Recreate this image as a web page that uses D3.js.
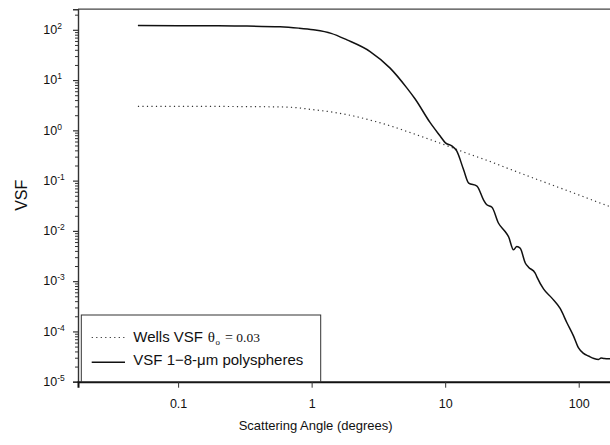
<!DOCTYPE html>
<html>
<head>
<meta charset="utf-8">
<script src="https://cdn.jsdelivr.net/npm/d3@7"></script>
<style>
  html, body { margin: 0; padding: 0; background: #fff; }
  svg { display: block; font-family: "Liberation Sans", Arial, sans-serif; }
</style>
</head>
<body>
<svg id="chart" width="610" height="445"></svg>
<script>
// ---- data ----
const wellsAngle = [0.05, 0.1, 0.2, 0.3, 0.5, 0.7, 1, 1.5, 2, 3, 4, 5, 7, 10, 15, 20, 30, 50, 70, 100, 140, 180];
const wellsVSF   = [3.0, 3.0, 2.99, 2.97, 2.94, 2.88, 2.6, 2.26, 1.96, 1.5, 1.2, 0.98, 0.72, 0.51, 0.34, 0.26, 0.172, 0.103, 0.074, 0.052, 0.037, 0.029];

const polyAngle = [0.05, 0.1, 0.2, 0.3, 0.58, 0.8, 1.03, 1.4, 1.84, 2.74, 3.87, 5.16, 5.96, 7.72, 9.17, 10.0, 11.2, 12.2, 13.7, 15.0, 17.3, 19.4, 20.5, 22.4, 25.1, 28.1, 29.8, 32.5, 34.4, 36.5, 39.8, 42.1, 47.2, 48.6, 54.5, 63, 72.6, 81.6, 91.5, 99.7, 108, 118.6, 130, 141, 147, 153.8, 165, 180];
const polyVSF   = [122, 121, 120, 119, 115, 108, 100, 85, 63, 37, 17.3, 7.0, 4.2, 1.42, 0.77, 0.57, 0.49, 0.39, 0.168, 0.089, 0.078, 0.041, 0.033, 0.0296, 0.0142, 0.0097, 0.0077, 0.0042, 0.0049, 0.0045, 0.0023, 0.0019, 0.00145, 0.00122, 0.0007, 0.00046, 0.000286, 0.000149, 0.0000807, 0.000047, 0.000037, 0.0000324, 0.000029, 0.0000278, 0.0000295, 0.000029, 0.0000285, 0.0000288];

const xTicks = [0.1, 1, 10, 100];
const xTickLabels = ["0.1", "1", "10", "100"];
const yTickExponents = [2, 1, 0, -1, -2, -3, -4, -5];

const xTitle = "Scattering Angle (degrees)";
const yTitle = "VSF";
const legendWells = "Wells VSF";
const legendPoly = "VSF 1\u22128-\u03BCm polyspheres";

// ---- scales ----
const svg = d3.select("#chart");
const x = d3.scaleLog().domain([0.0178, 180]).range([78, 612.8]);
const y = d3.scaleLog().domain([1e-5, 257]).range([381.7, 9.2]);

// ---- frame ----
svg.append("line")
  .attr("x1", x.range()[0]).attr("x2", 612)
  .attr("y1", y.range()[1]).attr("y2", y.range()[1])
  .attr("stroke", "#444").attr("stroke-width", 1.3);

// left axis
const yMinor = [];
yTickExponents.forEach(e => { for (let m = 2; m <= 9; m++) { const v = m * Math.pow(10, e); if (v <= y.domain()[1]) yMinor.push(v); } });

const gy = svg.append("g").attr("transform", `translate(${x.range()[0]},0)`);
gy.call(d3.axisLeft(y).tickValues(yMinor).tickSize(3).tickFormat(""))
  .call(g => g.select(".domain").remove())
  .call(g => g.selectAll("line").attr("stroke", "#333").attr("stroke-width", 1));
const gyMajor = svg.append("g").attr("transform", `translate(${x.range()[0]},0)`);
gyMajor.call(d3.axisLeft(y).tickValues(yTickExponents.map(e => Math.pow(10, e))).tickSize(5).tickFormat(""))
  .call(g => g.select(".domain").attr("stroke", "#333").attr("stroke-width", 1.4))
  .call(g => g.selectAll("line").attr("stroke", "#333").attr("stroke-width", 1.2));

// y tick labels with superscripts
const ylab = svg.append("g");
yTickExponents.forEach(e => {
  const t = ylab.append("text")
    .attr("x", 43.3).attr("y", y(Math.pow(10, e)) + 4.3)
    .attr("font-size", 12.5).attr("fill", "#111");
  t.append("tspan").text("10");
  t.append("tspan").attr("dy", -5).attr("font-size", 8.5).text(String(e));
});

// bottom axis
const gx = svg.append("g").attr("transform", `translate(0,${y.range()[0]})`);
gx.call(d3.axisBottom(x).tickValues(xTicks).tickSize(6).tickFormat((d, i) => xTickLabels[i]))
  .call(g => g.select(".domain").attr("stroke", "#111").attr("stroke-width", 2))
  .call(g => g.selectAll("line").attr("stroke", "#333").attr("stroke-width", 1))
  .call(g => g.selectAll("text").attr("font-size", 12.5).attr("fill", "#111")
    .attr("font-family", "'Liberation Sans', Arial, sans-serif").attr("dy", "1.35em"));

// axis titles
svg.append("text").attr("x", 315.6).attr("y", 429.5).attr("text-anchor", "middle")
  .attr("font-size", 13).attr("fill", "#111").text(xTitle);
svg.append("text").attr("transform", "translate(27,195.3) rotate(-90)").attr("text-anchor", "middle")
  .attr("font-size", 16).attr("fill", "#111").text(yTitle);

// ---- lines ----
const line = d3.line().x(d => x(d[0])).y(d => y(d[1])).curve(d3.curveMonotoneX);

svg.append("path")
  .datum(wellsAngle.map((a, i) => [a, wellsVSF[i]]))
  .attr("d", line).attr("fill", "none")
  .attr("stroke", "#333").attr("stroke-width", 1.2)
  .attr("stroke-dasharray", "1.2,3.3");

svg.append("path")
  .datum(polyAngle.map((a, i) => [a, polyVSF[i]]))
  .attr("d", line).attr("fill", "none")
  .attr("stroke", "#111").attr("stroke-width", 1.5);

// ---- legend ----
const lg = svg.append("g");
lg.append("rect").attr("x", 81.3).attr("y", 315).attr("width", 239.4).attr("height", 66.7)
  .attr("fill", "#fff").attr("stroke", "#333").attr("stroke-width", 1);
lg.append("line").attr("x1", 91.7).attr("x2", 125).attr("y1", 337.5).attr("y2", 337.5)
  .attr("stroke", "#333").attr("stroke-width", 1.2).attr("stroke-dasharray", "1.2,3.3");
lg.append("line").attr("x1", 91.7).attr("x2", 125).attr("y1", 362.3).attr("y2", 362.3)
  .attr("stroke", "#111").attr("stroke-width", 1.5);
const serif = "'Liberation Serif', 'Times New Roman', serif";
const t1 = lg.append("text").attr("x", 133.3).attr("y", 342.3).attr("font-size", 15).attr("fill", "#111");
t1.append("tspan").text(legendWells);
t1.append("tspan").attr("font-family", serif).attr("font-size", 15).attr("dx", 4.7).text("\u03B8");
t1.append("tspan").attr("font-family", serif).attr("font-size", 9).attr("dx", 0.5).attr("dy", 3).text("o");
t1.append("tspan").attr("font-family", serif).attr("font-size", 14).attr("dy", -3).attr("dx", 5).text("=");
t1.append("tspan").attr("font-family", serif).attr("font-size", 13.5).attr("dx", 3.5).text("0.03");
lg.append("text").attr("x", 133.3).attr("y", 365.3).attr("font-size", 15).attr("fill", "#111").text(legendPoly);
</script>
</body>
</html>
